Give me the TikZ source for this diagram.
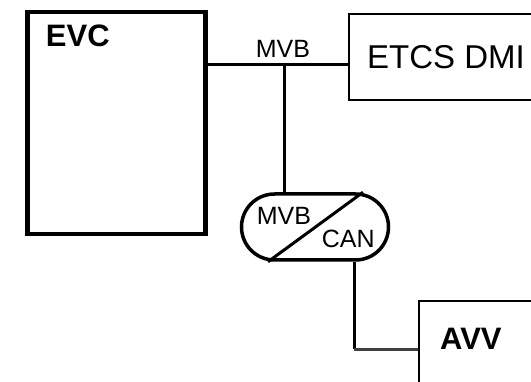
\documentclass[tikz,border=0pt]{standalone}
\usepackage{fontspec}
\setmainfont{Liberation Sans}
\usetikzlibrary{shapes.misc,calc}
\begin{document}
\begin{tikzpicture}[x=1pt,y=-1pt,
  box/.style={draw,line width=2pt,inner sep=0pt},
  evcbox/.style={draw,line width=4.5pt,inner sep=0pt},
  conn/.style={line width=3pt},
  thinconn/.style={line width=2.5pt,draw=black!75},
  lbl/.style={inner sep=0pt,anchor=base west}]
\useasboundingbox (0,0) rectangle (531,382);
\clip (0,0) rectangle (531,382);
% boxes
\node[evcbox,minimum width=178pt,minimum height=222pt] (evc) at (116.6,123) {};
\node[box,minimum width=200pt,minimum height=86pt] (dmi) at (449.3,57.1) {};
\node[box,minimum width=200pt,minimum height=130pt] (avv) at (519.3,365.7) {};
\node[draw,rounded rectangle,line width=3.5pt,minimum width=147pt,minimum height=66pt,inner sep=0pt] (conv) at (315,227) {};
% texts
\node[lbl,font=\bfseries\fontsize{31}{31}\selectfont] (evct) at (45.7,47) {EVC};
\node[lbl,font=\fontsize{33}{33}\selectfont] (dmit) at (367,69) {ETCS DMI};
\node[lbl,font=\bfseries\fontsize{31}{31}\selectfont] (avvt) at (440,350) {AVV};
\node[lbl,font=\fontsize{25}{25}\selectfont] (mvbt) at (255.7,57.6) {MVB};
\node[lbl,font=\fontsize{25}{25}\selectfont] (cmvb) at (256.7,225) {MVB};
\node[lbl,font=\fontsize{25}{25}\selectfont] (ccan) at (321.7,248) {CAN};
% converter diagonal
\draw[line width=3pt] ($(conv.north)+(48,0)$) -- ($(conv.south)+(-47,0)$);
% connectors
\coordinate (j) at (284.5,64.3);
\coordinate (k) at (354.3,349.5);
\draw[conn] (evc.east |- j) -- (j -| dmi.west);
\draw[conn] (j) -- (j |- conv.north);
\draw[conn] (conv.south -| k) -- (k);
\draw[thinconn] (k) -- (k -| avv.west);
\end{tikzpicture}
\end{document}
